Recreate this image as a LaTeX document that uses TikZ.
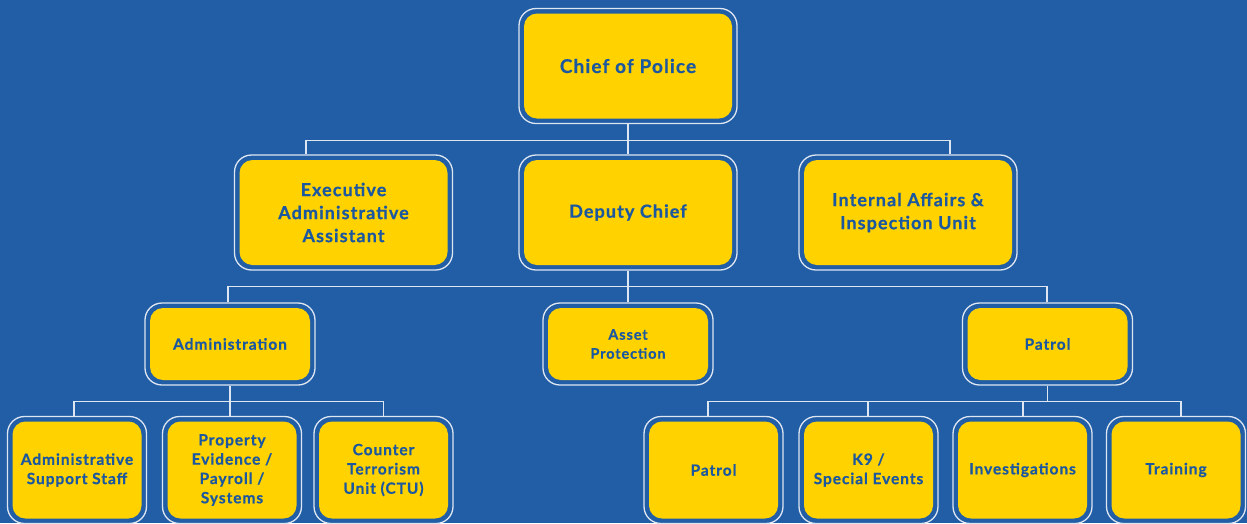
\documentclass[tikz,border=0pt]{standalone}
\usepackage{fontspec}
\setmainfont{Lato}[LetterSpace=6, BoldFeatures={FakeBold=0.6}]
\definecolor{bgblue}{RGB}{34,94,166}
\definecolor{boxyellow}{RGB}{255,210,0}
\definecolor{inkblue}{RGB}{28,88,160}
\definecolor{rimwhite}{RGB}{222,230,242}
\tikzset{
  unitbox/.style={draw=rimwhite, line width=1.3pt, fill=bgblue,
    rounded corners=17pt, align=center, text=inkblue,
    path picture={\fill[boxyellow, rounded corners=13pt]
      ([shift={(5pt,5pt)}]path picture bounding box.south west) rectangle
      ([shift={(-5pt,-5pt)}]path picture bounding box.north east);}},
  toprank/.style={unitbox, minimum width=218pt, minimum height=115pt,
    font=\bfseries\fontsize{18}{23}\selectfont},
  midrank/.style={unitbox, minimum width=170pt, minimum height=82pt,
    font=\bfseries\fontsize{15.5}{19}\selectfont},
  lowrank/.style={unitbox, minimum width=139pt, minimum height=107pt,
    font=\bfseries\fontsize{15.5}{19.3}\selectfont},
  wire/.style={draw=rimwhite, line width=1.2pt}
}
\begin{document}
\begin{tikzpicture}[x=1pt, y=-1pt]
    % --- Canvas ---
    \fill[bgblue] (0,0) rectangle (1247,523);
    \useasboundingbox (0,0) rectangle (1247,523);

    % --- Top of the chart ---
    \node[toprank, font=\bfseries\fontsize{19}{23}\selectfont] (chief) at (628,66) {Chief of Police};

    % --- Second row ---
    \node[toprank] (exec) at (343.5,212.5) {Executive\\Administrative\\Assistant};
    \node[toprank] (deputy) at (628,212.5) {Deputy Chief};
    \node[toprank] (intaff) at (908,212.5) {Internal Affairs \&\\Inspection Unit};

    % --- Divisions ---
    \node[midrank] (admin) at (230,344) {Administration};
    \node[midrank, font=\bfseries\fontsize{14.5}{19}\selectfont] (asset) at (628,344) {Asset\\Protection};
    \node[midrank] (patrol) at (1047.5,344) {Patrol};

    % --- Units under Administration ---
    \node[lowrank] (support) at (77,470) {Administrative\\Support Staff};
    \node[lowrank] (property) at (232,470) {Property\\Evidence /\\Payroll /\\Systems};
    \node[lowrank] (ctu) at (383.5,470) {Counter\\Terrorism\\Unit (CTU)};

    % --- Units under Patrol ---
    \node[lowrank] (patrolunit) at (713.5,470) {Patrol};
    \node[lowrank] (k9) at (868.5,470) {K9 /\\Special Events};
    \node[lowrank] (invest) at (1022.5,470) {Investigations};
    \node[lowrank] (training) at (1176,470) {Training};

    % --- Connectors ---
    \draw[wire] (chief.south) -- (deputy.north);
    \draw[wire] (chief.south) -- ++(0,16) -| ([xshift=-37.5pt]exec.north);
    \draw[wire] (chief.south) -- ++(0,16) -| ([xshift=42pt]intaff.north);

    \draw[wire] (deputy.south) -- (asset.north);
    \draw[wire] (deputy.south) -- ++(0,16) -| ([xshift=-2pt]admin.north);
    \draw[wire] (deputy.south) -- ++(0,16) -| ([xshift=-0.5pt]patrol.north);

    \draw[wire] (admin.south) -- ++(0,16) -| ([xshift=-3pt]support.north);
    \draw[wire] (admin.south) -- ++(0,16) -| ([xshift=-2pt]property.north);
    \draw[wire] (admin.south) -- ++(0,16) -| (ctu.north);

    \draw[wire] (patrol.south) -- ++(0,16) -| ([xshift=-5.5pt]patrolunit.north);
    \draw[wire] (patrol.south) -- ++(0,16) -| ([xshift=-0.5pt]k9.north);
    \draw[wire] (patrol.south) -- ++(0,16) -| ([xshift=0.5pt]invest.north);
    \draw[wire] (patrol.south) -- ++(0,16) -| ([xshift=5pt]training.north);
\end{tikzpicture}
\end{document}
